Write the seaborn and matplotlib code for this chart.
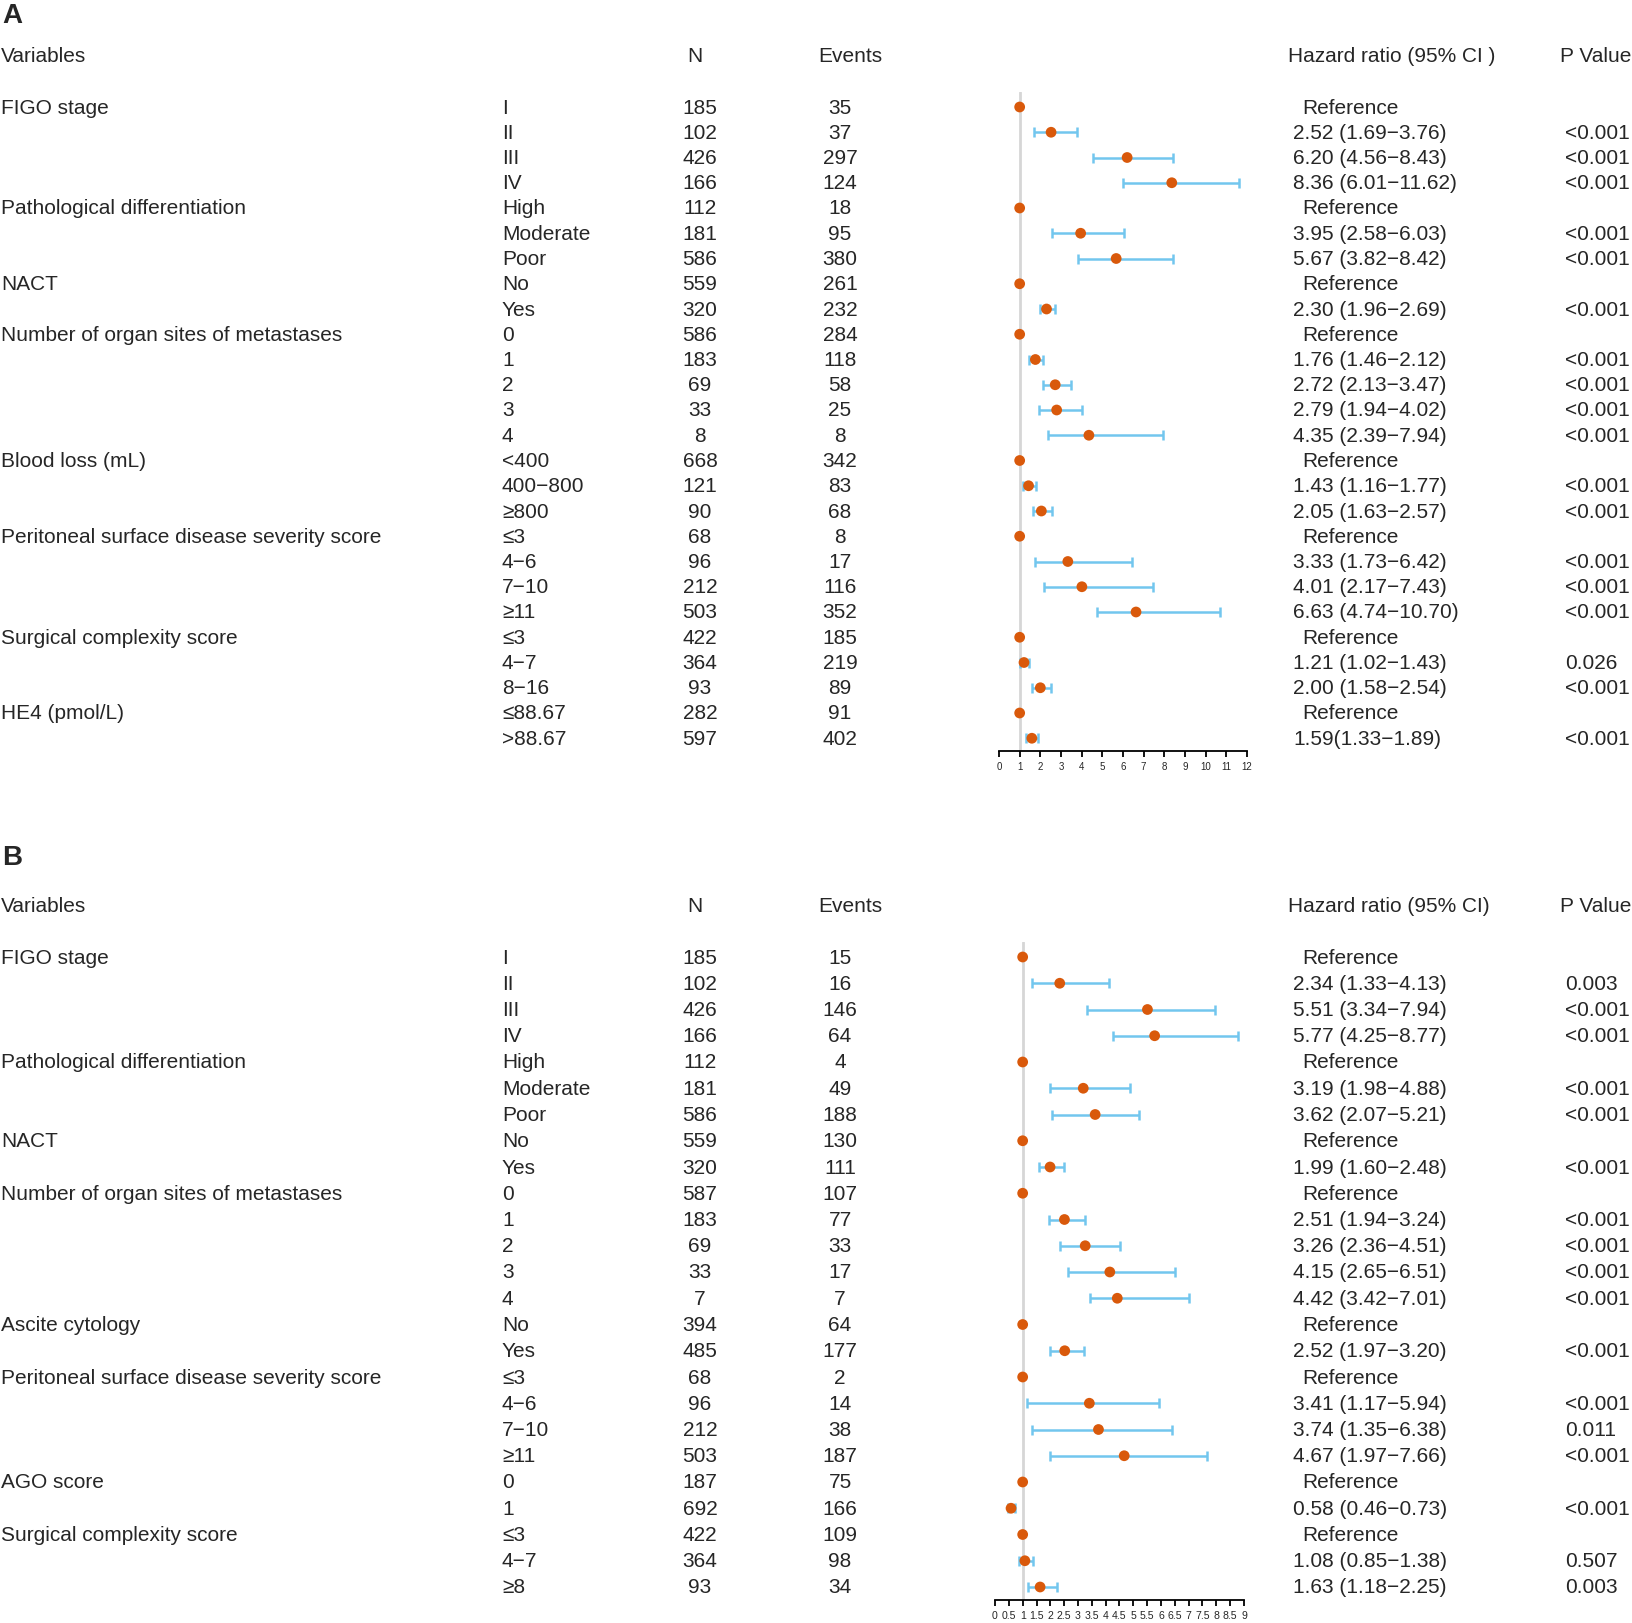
import numpy as np
import pandas as pd
import matplotlib
matplotlib.use("Agg")
import matplotlib.pyplot as plt
import matplotlib.transforms as mtransforms
import seaborn as sns

# =========================
# DATA - PANEL A
# =========================
a_groups = ["FIGO stage", "Pathological differentiation", "NACT",
            "Number of organ sites of metastases", "Blood loss (mL)",
            "Peritoneal surface disease severity score",
            "Surgical complexity score", "HE4 (pmol/L)"]
a_group_sizes = [4, 3, 2, 5, 3, 4, 3, 2]
a_categories = ["I", "II", "III", "IV", "High", "Moderate", "Poor", "No", "Yes",
                "0", "1", "2", "3", "4", "<400", "400−800", "≥800",
                "≤3", "4−6", "7−10", "≥11", "≤3", "4−7", "8−16",
                "≤88.67", ">88.67"]
a_n = [185, 102, 426, 166, 112, 181, 586, 559, 320, 586, 183, 69, 33, 8,
       668, 121, 90, 68, 96, 212, 503, 422, 364, 93, 282, 597]
a_events = [35, 37, 297, 124, 18, 95, 380, 261, 232, 284, 118, 58, 25, 8,
            342, 83, 68, 8, 17, 116, 352, 185, 219, 89, 91, 402]
a_hr = [1, 2.52, 6.20, 8.36, 1, 3.95, 5.67, 1, 2.30, 1, 1.76, 2.72, 2.79, 4.35,
        1, 1.43, 2.05, 1, 3.33, 4.01, 6.63, 1, 1.21, 2.00, 1, 1.59]
a_lo = [np.nan, 1.69, 4.56, 6.01, np.nan, 2.58, 3.82, np.nan, 1.96, np.nan,
        1.46, 2.13, 1.94, 2.39, np.nan, 1.16, 1.63, np.nan, 1.73, 2.17, 4.74,
        np.nan, 1.02, 1.58, np.nan, 1.33]
a_hi = [np.nan, 3.76, 8.43, 11.62, np.nan, 6.03, 8.42, np.nan, 2.69, np.nan,
        2.12, 3.47, 4.02, 7.94, np.nan, 1.77, 2.57, np.nan, 6.42, 7.43, 10.70,
        np.nan, 1.43, 2.54, np.nan, 1.89]
a_hr_text = ["Reference", "2.52 (1.69−3.76)", "6.20 (4.56−8.43)", "8.36 (6.01−11.62)",
             "Reference", "3.95 (2.58−6.03)", "5.67 (3.82−8.42)",
             "Reference", "2.30 (1.96−2.69)",
             "Reference", "1.76 (1.46−2.12)", "2.72 (2.13−3.47)", "2.79 (1.94−4.02)",
             "4.35 (2.39−7.94)",
             "Reference", "1.43 (1.16−1.77)", "2.05 (1.63−2.57)",
             "Reference", "3.33 (1.73−6.42)", "4.01 (2.17−7.43)", "6.63 (4.74−10.70)",
             "Reference", "1.21 (1.02−1.43)", "2.00 (1.58−2.54)",
             "Reference", "1.59(1.33−1.89)"]
a_p = ["", "<0.001", "<0.001", "<0.001", "", "<0.001", "<0.001", "", "<0.001",
       "", "<0.001", "<0.001", "<0.001", "<0.001", "", "<0.001", "<0.001",
       "", "<0.001", "<0.001", "<0.001", "", "0.026", "<0.001", "", "<0.001"]
a_xticks = list(range(0, 13))

# =========================
# DATA - PANEL B
# =========================
b_groups = ["FIGO stage", "Pathological differentiation", "NACT",
            "Number of organ sites of metastases", "Ascite cytology",
            "Peritoneal surface disease severity score", "AGO score",
            "Surgical complexity score"]
b_group_sizes = [4, 3, 2, 5, 2, 4, 2, 3]
b_categories = ["I", "II", "III", "IV", "High", "Moderate", "Poor", "No", "Yes",
                "0", "1", "2", "3", "4", "No", "Yes",
                "≤3", "4−6", "7−10", "≥11", "0", "1", "≤3", "4−7", "≥8"]
b_n = [185, 102, 426, 166, 112, 181, 586, 559, 320, 587, 183, 69, 33, 7,
       394, 485, 68, 96, 212, 503, 187, 692, 422, 364, 93]
b_events = [15, 16, 146, 64, 4, 49, 188, 130, 111, 107, 77, 33, 17, 7,
            64, 177, 2, 14, 38, 187, 75, 166, 109, 98, 34]
b_hr = [1, 2.34, 5.51, 5.77, 1, 3.19, 3.62, 1, 1.99, 1, 2.51, 3.26, 4.15, 4.42,
        1, 2.52, 1, 3.41, 3.74, 4.67, 1, 0.58, 1, 1.08, 1.63]
b_lo = [np.nan, 1.33, 3.34, 4.25, np.nan, 1.98, 2.07, np.nan, 1.60, np.nan,
        1.94, 2.36, 2.65, 3.42, np.nan, 1.97, np.nan, 1.17, 1.35, 1.97,
        np.nan, 0.46, np.nan, 0.85, 1.18]
b_hi = [np.nan, 4.13, 7.94, 8.77, np.nan, 4.88, 5.21, np.nan, 2.48, np.nan,
        3.24, 4.51, 6.51, 7.01, np.nan, 3.20, np.nan, 5.94, 6.38, 7.66,
        np.nan, 0.73, np.nan, 1.38, 2.25]
b_hr_text = ["Reference", "2.34 (1.33−4.13)", "5.51 (3.34−7.94)", "5.77 (4.25−8.77)",
             "Reference", "3.19 (1.98−4.88)", "3.62 (2.07−5.21)",
             "Reference", "1.99 (1.60−2.48)",
             "Reference", "2.51 (1.94−3.24)", "3.26 (2.36−4.51)", "4.15 (2.65−6.51)",
             "4.42 (3.42−7.01)",
             "Reference", "2.52 (1.97−3.20)",
             "Reference", "3.41 (1.17−5.94)", "3.74 (1.35−6.38)", "4.67 (1.97−7.66)",
             "Reference", "0.58 (0.46−0.73)",
             "Reference", "1.08 (0.85−1.38)", "1.63 (1.18−2.25)"]
b_p = ["", "0.003", "<0.001", "<0.001", "", "<0.001", "<0.001", "", "<0.001",
       "", "<0.001", "<0.001", "<0.001", "<0.001", "", "<0.001",
       "", "<0.001", "0.011", "<0.001", "", "<0.001", "", "0.507", "0.003"]
b_xticks = [i * 0.5 for i in range(0, 19)]

# =========================
# STYLE
# =========================
sns.set_style("white")
plt.rcParams['font.family'] = ['Liberation Sans', 'DejaVu Sans']

POINT_COLOR = "#D9590B"
CI_COLOR = "#72C6EE"
REF_COLOR = "#D6D6D6"
FS = 15

W, H = 1633, 1624
fig = plt.figure(figsize=(W / 100, H / 100), dpi=100)


def make_table(groups, sizes, cats, n, ev, hr, lo, hi, hr_text, p):
    var_col = []
    for g, s in zip(groups, sizes):
        var_col += [g] + [""] * (s - 1)
    return pd.DataFrame({
        "row": np.arange(len(cats)),
        "variable": var_col,
        "category": cats,
        "N": n,
        "events": ev,
        "hr": hr,
        "lo": lo,
        "hi": hi,
        "hr_text": hr_text,
        "p": p,
    })


def draw_panel(label, df, px_left, px_right, px_top, px_bottom,
               row0_px, row_step, xticks, tick_fs, hr_header, label_px, header_px):
    ax = fig.add_axes([px_left / W, 1 - px_bottom / H,
                       (px_right - px_left) / W, (px_bottom - px_top) / H])
    ax.set_xlim(xticks[0], xticks[-1])
    ax.set_ylim((px_bottom - row0_px) / row_step, (px_top - row0_px) / row_step)

    # reference line at HR = 1
    ax.axvline(1, color=REF_COLOR, lw=2, zorder=0)

    # confidence intervals
    ci = df.dropna(subset=["lo"])
    ax.errorbar(ci["hr"], ci["row"],
                xerr=[ci["hr"] - ci["lo"], ci["hi"] - ci["hr"]],
                fmt="none", ecolor=CI_COLOR, elinewidth=1.8,
                capsize=3.5, capthick=1.8, zorder=2)

    # point estimates
    sns.scatterplot(data=df, x="hr", y="row", ax=ax, color=POINT_COLOR,
                    s=60, edgecolor="none", zorder=3, legend=False)

    ax.set_xlabel("")
    ax.set_ylabel("")
    ax.set_yticks([])
    ax.set_xticks(xticks)
    ax.set_xticklabels([f"{t:g}" for t in xticks], fontsize=tick_fs)
    for side in ["left", "top", "right"]:
        ax.spines[side].set_visible(False)
    ax.spines["bottom"].set_color("black")
    ax.spines["bottom"].set_linewidth(1.3)
    ax.tick_params(axis="x", direction="out", length=4, width=1.3,
                   color="black", pad=3, bottom=True)

    # table text
    tr = mtransforms.blended_transform_factory(fig.transFigure, ax.transData)
    for _, r in df.iterrows():
        y = r["row"]
        if r["variable"]:
            ax.text(1 / W, y, r["variable"], transform=tr, fontsize=FS,
                    ha="left", va="center")
        ax.text(502 / W, y, r["category"], transform=tr, fontsize=FS,
                ha="left", va="center")
        ax.text(700 / W, y, str(r["N"]), transform=tr, fontsize=FS,
                ha="center", va="center")
        ax.text(840 / W, y, str(r["events"]), transform=tr, fontsize=FS,
                ha="center", va="center")
        if r["hr_text"] == "Reference":
            ax.text(1302 / W, y, r["hr_text"], transform=tr, fontsize=FS,
                    ha="left", va="center")
        else:
            ax.text(1293 / W, y, r["hr_text"], transform=tr, fontsize=FS,
                    ha="left", va="center")
        if r["p"]:
            ax.text(1565 / W, y, r["p"], transform=tr, fontsize=FS,
                    ha="left", va="center")

    # headers
    hy = (header_px - row0_px) / row_step
    ax.text(1 / W, hy, "Variables", transform=tr, fontsize=FS, ha="left", va="center")
    ax.text(695 / W, hy, "N", transform=tr, fontsize=FS, ha="center", va="center")
    ax.text(850 / W, hy, "Events", transform=tr, fontsize=FS, ha="center", va="center")
    ax.text(1288 / W, hy, hr_header, transform=tr, fontsize=FS, ha="left", va="center")
    ax.text(1560 / W, hy, "P Value", transform=tr, fontsize=FS, ha="left", va="center")

    fig.text(2 / W, 1 - label_px / H, label, fontsize=20, fontweight="bold",
             ha="left", va="center")
    return ax


df_a = make_table(a_groups, a_group_sizes, a_categories, a_n, a_events,
                  a_hr, a_lo, a_hi, a_hr_text, a_p)
df_b = make_table(b_groups, b_group_sizes, b_categories, b_n, b_events,
                  b_hr, b_lo, b_hi, b_hr_text, b_p)

draw_panel("A", df_a, 999, 1247, 93, 752, 108, 25.25, a_xticks, 7,
           "Hazard ratio (95% CI )", 16, 57)
draw_panel("B", df_b, 995, 1244, 943, 1601, 958, 26.25, b_xticks, 7.6,
           "Hazard ratio (95% CI)", 858, 906)

fig.savefig("out.png", dpi=100)
